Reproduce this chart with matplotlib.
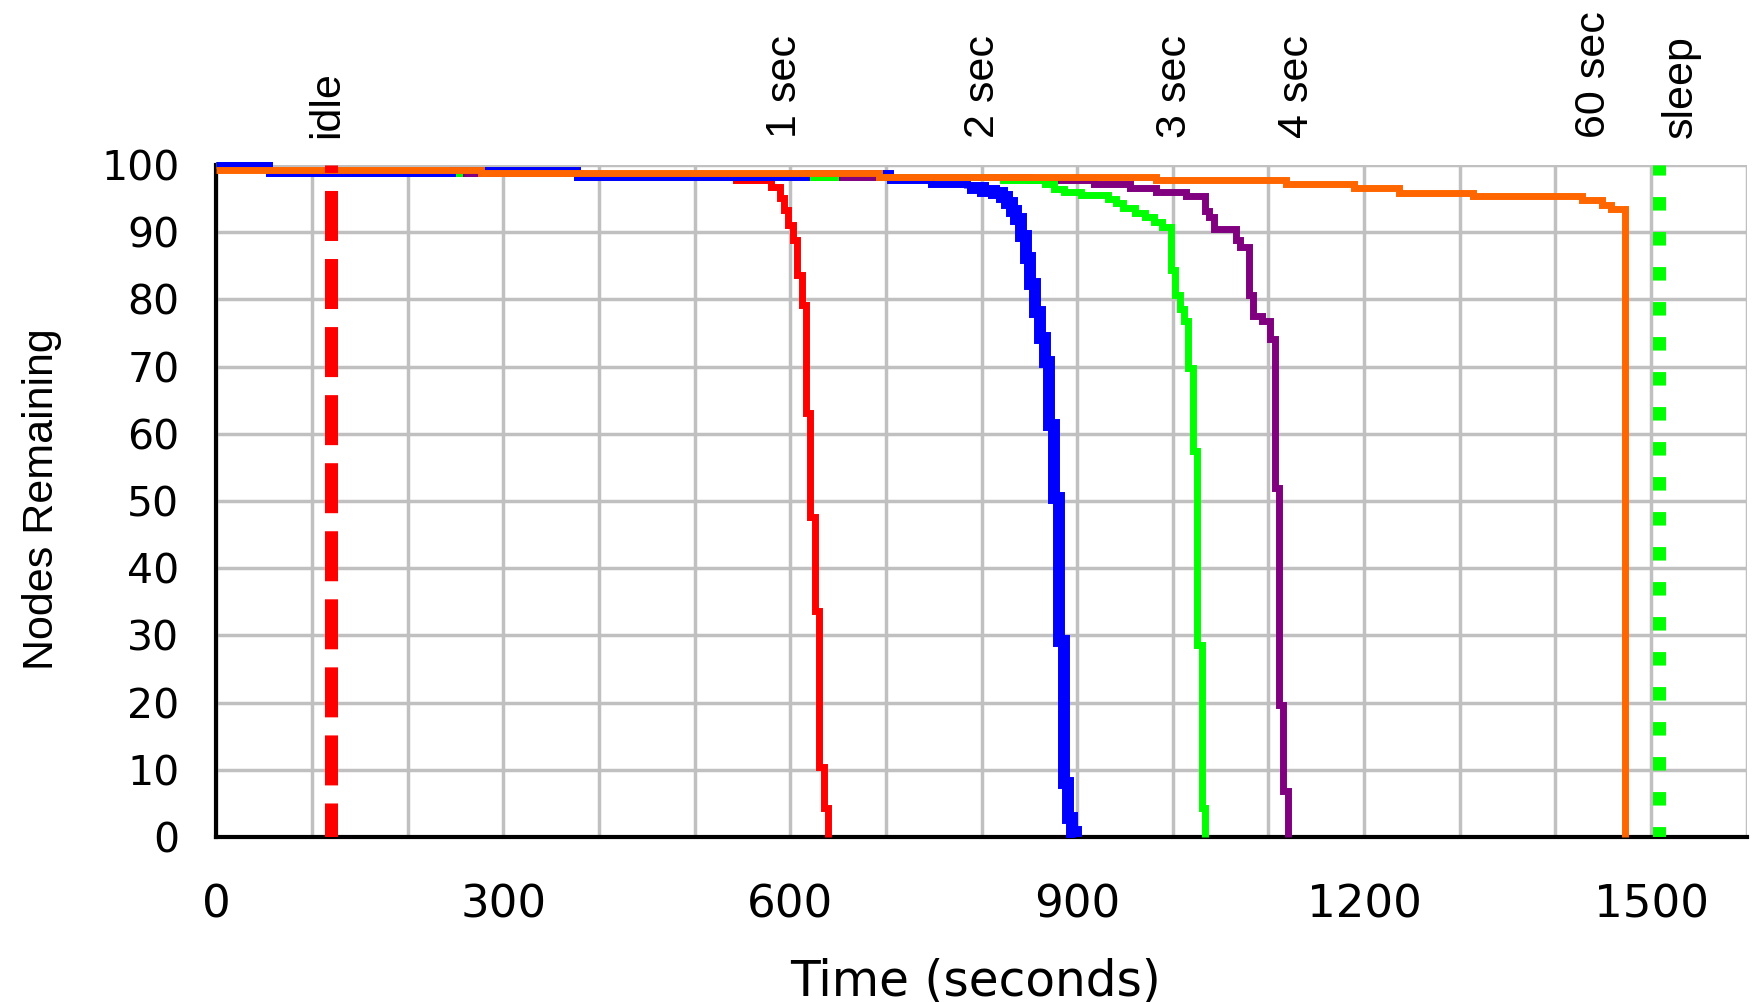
import matplotlib
matplotlib.use("Agg")
import matplotlib.pyplot as plt
from matplotlib.ticker import MultipleLocator

plt.rcParams['lines.scale_dashes'] = False

# ---------------- data ----------------
# step curves: time (s) at which each level starts, nodes remaining
red_t = [0, 55, 380, 543, 579.6, 588.9, 593.4, 597.9, 602.4, 607.3, 611.8,
         616.3, 621.1, 625.6, 630.1, 635.0, 639.5]
red_n = [100, 98.75, 98.15, 97.7, 96.8, 95.1, 93.3, 91.0, 88.9, 83.6, 79.1,
         63.1, 47.6, 33.7, 10.4, 4.3, 0]

blue_t = [0, 55, 246, 377, 616, 704, 747, 785, 801, 813, 821, 827, 832, 836,
          841, 846, 851, 856, 861, 866, 871, 876, 881, 886, 890.5,
          894.5, 899]
blue_n = [100, 98.75, 99.2, 98.15, 98.75, 97.7, 97.1, 96.6, 96.2, 95.8, 95.3,
          94.3, 93.1, 92.0, 89.4, 86.2, 82.3, 78.1, 74.3, 70.7, 61.3, 50.4,
          29.2, 8.0, 2.9, 0.8, 0]

green_t = [0, 55, 254, 377, 647, 700, 822, 866, 876, 886, 904, 932, 941, 948,
           960, 971, 980, 989, 998, 1002, 1007, 1011.6, 1016, 1021, 1025,
           1030, 1034]
green_n = [100, 98.75, 99.2, 98.15, 98.75, 98.15, 97.7, 97.1, 96.5, 96.0,
           95.5, 94.9, 94.3, 93.6, 92.9, 92.3, 91.5, 90.8, 84.4, 80.7, 78.6,
           76.8, 69.8, 57.4, 28.6, 4.3, 0]

purple_t = [0, 55, 377, 850, 918, 955, 982, 1013.5, 1034, 1038, 1043, 1066,
            1070, 1079.5, 1084, 1093, 1102, 1106.5, 1111, 1115.5, 1120.5]
purple_n = [100, 98.75, 98.15, 97.7, 97.1, 96.6, 96.0, 95.4, 93.1, 92.2,
            90.5, 88.8, 87.8, 80.7, 77.5, 76.8, 74.1, 52.0, 19.6, 6.8, 0]

orange_t = [0, 277, 693, 982, 1118, 1189, 1236, 1314, 1428, 1449, 1458, 1473]
orange_n = [99.2, 98.75, 98.15, 97.7, 97.1, 96.6, 95.9, 95.4, 94.8, 94.1,
            93.5, 0]

idle_time = 120
sleep_time = 1508

# top labels: (text, time of label baseline)
top_labels = ["idle", "1 sec", "2 sec", "3 sec", "4 sec", "60 sec", "sleep"]
top_label_t = [127, 606, 813, 1014, 1141, 1452, 1543]

x_ticks = [0, 300, 600, 900, 1200, 1500]
y_ticks = [0, 10, 20, 30, 40, 50, 60, 70, 80, 90, 100]

# ---------------- figure ----------------
W, H = 1756, 1002
fig = plt.figure(figsize=(W / 100, H / 100), dpi=100)
x0, x1, ytop, ybot = 216.4, 1746.7, 165, 837
ax = fig.add_axes([x0 / W, 1 - ybot / H, (x1 - x0) / W, (ybot - ytop) / H])
ax.set_xlim(0, 1600)
ax.set_ylim(0, 100)

grid_kw = dict(color="#c0c0c0", linewidth=2.5)
ax.xaxis.set_minor_locator(MultipleLocator(100))
ax.set_xticks(x_ticks)
ax.set_yticks(y_ticks)
ax.grid(True, which="both", axis="x", **grid_kw)
ax.grid(True, which="major", axis="y", **grid_kw)
ax.set_axisbelow(True)

for s in ("top", "right"):
    ax.spines[s].set_visible(False)
for s in ("left", "bottom"):
    ax.spines[s].set_linewidth(3.0)
    ax.spines[s].set_color("black")
    ax.spines[s].set_zorder(1.5)

ax.tick_params(which="both", length=0)
ax.tick_params(axis="x", pad=33.5, labelsize=32.5)
ax.tick_params(axis="y", pad=26.6, labelsize=29.5)
for lab in ax.get_xticklabels() + ax.get_yticklabels():
    lab.set_fontfamily("DejaVu Sans")

step_kw = dict(where="post", solid_joinstyle="miter", solid_capstyle="butt",
               clip_on=False)
ax.step(red_t, red_n, color="#ff0000", linewidth=5.0, zorder=3, **step_kw)
ax.step(purple_t, purple_n, color="#800080", linewidth=5.0, zorder=4, **step_kw)
ax.step(green_t, green_n, color="#00ff00", linewidth=5.0, zorder=5, **step_kw)
# blue: thin along the top band, heavy where it falls
k = blue_t.index(785)
ax.step(blue_t[:k + 1], blue_n[:k + 1], color="#0000ff", linewidth=5.0,
        zorder=6, **step_kw)
ax.step(blue_t[k:], blue_n[k:], color="#0000ff", linewidth=8.6, zorder=6,
        **step_kw)
ax.step(orange_t, orange_n, color="#ff6600", linewidth=5.0, zorder=7, **step_kw)

ax.axvline(idle_time, color="#ff0000", linewidth=9.4,
           linestyle=(11.5, (36, 13)), dash_capstyle="butt", zorder=8)
ax.axvline(sleep_time, color="#00ff00", linewidth=9.4,
           linestyle=(2.2, (9.7, 15.5)), dash_capstyle="butt", zorder=8)

label_font = ["Liberation Sans", "DejaVu Sans"]
for txt, t in zip(top_labels, top_label_t):
    ax.text(t, 104.0, txt, rotation=90, rotation_mode="anchor",
            ha="left", va="baseline", fontsize=31, family=label_font,
            clip_on=False)

fig.text(976 / W, 1 - 995 / H, "Time (seconds)", ha="center", va="baseline",
         fontsize=35, family=["DejaVu Sans"])
fig.text(53 / W, 1 - 499 / H, "Nodes Remaining", rotation=90,
         rotation_mode="anchor", ha="center", va="baseline", fontsize=31,
         family=label_font)

fig.savefig("out.png", dpi=100)
